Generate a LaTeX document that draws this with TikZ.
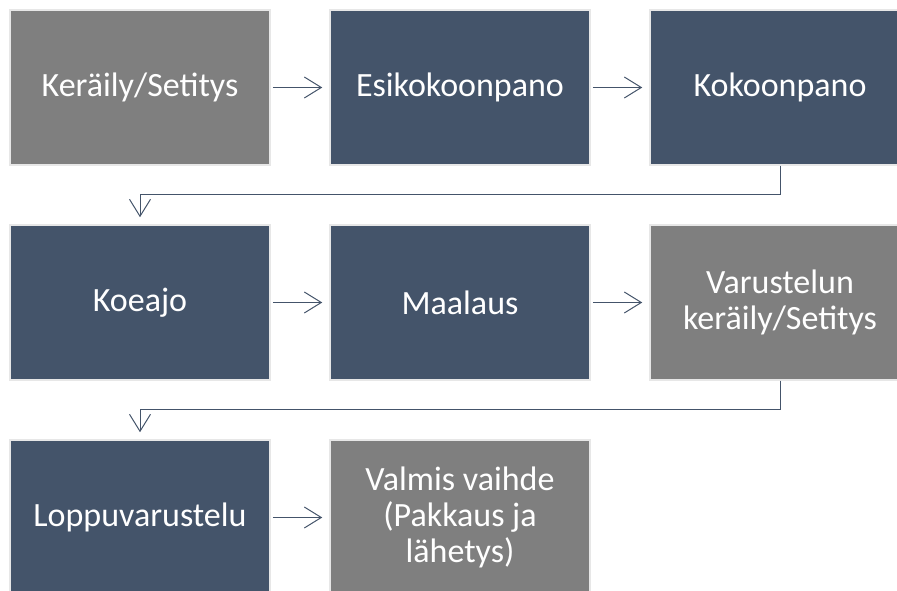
\documentclass[tikz,border=0pt]{standalone}
\usepackage{fontspec}
\setmainfont{Carlito}
\usetikzlibrary{arrows.meta}
\definecolor{slate}{HTML}{44546A}
\definecolor{greybox}{HTML}{7F7F7F}
\definecolor{rim}{HTML}{E7E7E7}
\definecolor{linec}{HTML}{44546A}
\tikzset{
  box/.style={draw=rim, line width=1.5pt, minimum width=260pt, minimum height=155pt,
    inner sep=0pt, text=white, align=center, font=\fontsize{34}{36}\selectfont},
  darkbox/.style={box, fill=slate},
  lightbox/.style={box, fill=greybox},
  arr/.style={draw=linec, line width=1pt, -{Straight Barb[length=17pt,width=21pt,line width=1pt]},
    shorten >=7pt},
}
\begin{document}
\begin{tikzpicture}[x=1pt,y=1pt]
\useasboundingbox (0,0) rectangle (897,591);
\clip (0,0) rectangle (897,591);
\node[lightbox] (a1) at (140,503.5) {Keräily/Setitys};
\node[darkbox] (a2) at (460,503.5) {Esikokoonpano};
\node[darkbox] (a3) at (780,503.5) {Kokoonpano};
\node[darkbox] (a4) at (140,288.5) {Koeajo};
\node[darkbox] (a5) at (460,288.5) {Maalaus};
\node[lightbox] (a6) at (780,288.5) {Varustelun\\keräily/Setitys};
\node[darkbox] (a7) at (140,73.5) {Loppuvarustelu};
\node[lightbox] (a8) at (460,73.5) {Valmis vaihde\\(Pakkaus ja\\lähetys)};
\draw[arr, shorten <=2pt] (a1.east) -- (a2.west);
\draw[arr, shorten <=2pt] (a2.east) -- (a3.west);
\draw[arr, shorten <=2pt] (a4.east) -- (a5.west);
\draw[arr, shorten <=2pt] (a5.east) -- (a6.west);
\draw[arr, shorten <=2pt] (a7.east) -- (a8.west);
\draw[arr] (a3.south) -- ++(0,-29) -| (a4.north);
\draw[arr] (a6.south) -- ++(0,-29) -| (a7.north);
\end{tikzpicture}
\end{document}
